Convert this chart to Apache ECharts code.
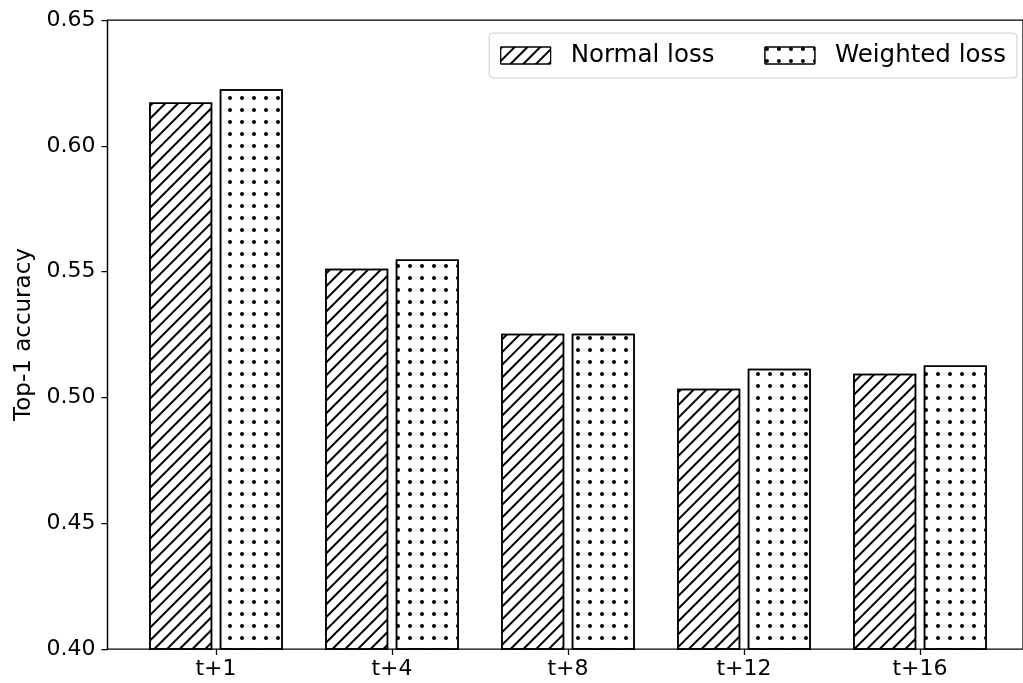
<!DOCTYPE html>
<html>
<head>
<meta charset="utf-8">
<script src="https://cdn.jsdelivr.net/npm/echarts@6/dist/echarts.min.js"></script>
<style>
  html, body { margin: 0; padding: 0; background: #fff; }
  #chart { width: 1023px; height: 683px; }
</style>
</head>
<body>
<div id="chart"></div>
<script>
const categories = ['t+1', 't+4', 't+8', 't+12', 't+16'];
const normalLoss = [0.6172, 0.5511, 0.5253, 0.5034, 0.5094];
const weightedLoss = [0.6225, 0.5548, 0.5253, 0.5114, 0.5127];
const yTicks = { min: 0.40, max: 0.65, interval: 0.05 };

const FONT = 'DejaVu Sans';

const hatchDecal = {
  symbol: 'rect',
  symbolSize: 1,
  dashArrayX: [1, 0],
  dashArrayY: [1.1, 6.4],
  rotation: -Math.PI / 4,
  color: '#000'
};
const dotDecal = {
  symbol: 'circle',
  symbolSize: 1,
  dashArrayX: [3.2, 7.5],
  dashArrayY: [3.2, 7.1],
  rotation: 0,
  color: '#000'
};

const chart = echarts.init(document.getElementById('chart'), null, { renderer: 'canvas' });
chart.setOption({
  backgroundColor: '#fff',
  animation: false,
  textStyle: { fontFamily: FONT },
  grid: [
    { left: 107.5, right: -6, top: 20, bottom: 34, show: true, borderColor: '#000', borderWidth: 1.25, backgroundColor: 'transparent', containLabel: false },
    { left: 128, right: 15, top: 20, bottom: 34, containLabel: false }
  ],
  xAxis: [
    { gridIndex: 0, type: 'value', min: 0, max: 1, show: false },
    {
      gridIndex: 1, type: 'category', data: categories,
      axisLine: { show: false },
      axisTick: { show: true, alignWithLabel: true, length: 6, lineStyle: { color: '#000', width: 1.25 } },
      axisLabel: { color: '#000', fontSize: 22, fontFamily: FONT, margin: 9 },
      splitLine: { show: false }
    }
  ],
  yAxis: [
    {
      gridIndex: 0, type: 'value', min: yTicks.min, max: yTicks.max, interval: yTicks.interval,
      name: 'Top-1 accuracy', nameLocation: 'middle', nameGap: 71, nameRotate: 90,
      nameTextStyle: { color: '#000', fontSize: 23, fontFamily: FONT },
      axisLine: { show: true, lineStyle: { color: '#000', width: 1.25 } },
      axisTick: { show: true, length: 6, lineStyle: { color: '#000', width: 1.25 } },
      axisLabel: { color: '#000', fontSize: 22, fontFamily: FONT, margin: 12, formatter: v => v.toFixed(2) },
      splitLine: { show: false }
    },
    { gridIndex: 1, type: 'value', min: yTicks.min, max: yTicks.max, interval: yTicks.interval, show: false }
  ],
  legend: {
    right: 6, top: 33,
    orient: 'horizontal',
    icon: 'rect',
    itemWidth: 50, itemHeight: 17,
    itemGap: 50,
    padding: [10, 11, 10, 11],
    backgroundColor: 'rgba(255,255,255,0.8)',
    borderColor: '#cccccc', borderWidth: 1, borderRadius: 4,
    itemStyle: { borderWidth: 1 },
    textStyle: { color: '#000', fontSize: 24.5, fontFamily: FONT, padding: [0, 0, 0, 15] },
    data: ['Normal loss', 'Weighted loss']
  },
  series: [
    {
      name: 'Normal loss', type: 'bar', xAxisIndex: 1, yAxisIndex: 1,
      data: normalLoss, barWidth: 63, barGap: '12%',
      itemStyle: { color: '#fff', borderColor: '#000', borderWidth: 1.5, decal: hatchDecal }
    },
    {
      name: 'Weighted loss', type: 'bar', xAxisIndex: 1, yAxisIndex: 1,
      data: weightedLoss, barWidth: 63, barGap: '12%',
      itemStyle: { color: '#fff', borderColor: '#000', borderWidth: 1.5, decal: dotDecal }
    }
  ]
});
</script>
</body>
</html>
